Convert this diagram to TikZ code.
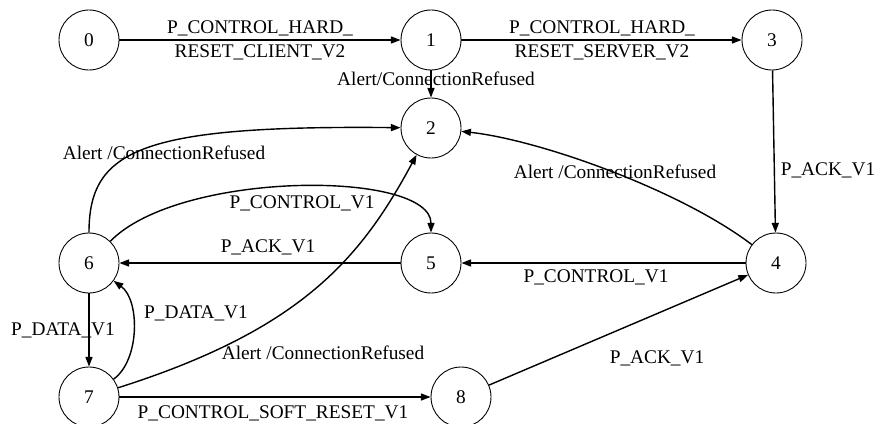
\documentclass[tikz,border=0pt]{standalone}
\usepackage{fontspec}
\setmainfont{Liberation Serif}
\usetikzlibrary{arrows.meta}

\begin{document}
\begin{tikzpicture}[x=0.02cm,y=-0.02cm,font=\fontsize{11pt}{13.5pt}\selectfont,
  state/.style={circle,draw,line width=0.5pt,minimum size=1.2cm,inner sep=0pt},
  trans/.style={line width=0.8pt,-{Triangle[length=5.5pt,width=4pt]}},
  lbl/.style={inner sep=0pt,align=center}]
\useasboundingbox (0,0) rectangle (875,423);
\node[state] (n0) at (89,40) {0};
\node[state] (n1) at (431,40) {1};
\node[state] (n3) at (772,40) {3};
\node[state] (n2) at (431,128) {2};
\node[state] (n6) at (89,263) {6};
\node[state] (n5) at (431,263) {5};
\node[state] (n4) at (776,263) {4};
\node[state] (n7) at (89,397) {7};
\node[state] (n8) at (461,397) {8};
\draw[trans] (n0) -- (n1);
\draw[trans] (n1) -- (n3);
\draw[trans] (n1) -- (n2);
\draw[trans] (n3) -- (n4);
\draw[trans] (n4) .. controls (680,190) and (540,140) .. (n2);
\draw[trans] (n4) -- (n5);
\draw[trans] (n5) -- (n6);
\draw[trans] (n6) .. controls (180,170) and (431,170) .. (n5);
\draw[trans] (n6) .. controls (89,150) and (140,125) .. (n2);
\draw[trans] (n6) -- (n7);
\draw[trans] (n7) .. controls (140,360) and (140,300) .. (n6);
\draw[trans] (n7) .. controls (300,330) and (360,260) .. (n2);
\draw[trans] (n7) -- (n8);
\draw[trans] (n8) -- (n4);
\node[lbl] (l01) at (260,40) {P\_CONTROL\_HARD\_\\RESET\_CLIENT\_V2};
\node[lbl] (l13) at (602,40) {P\_CONTROL\_HARD\_\\RESET\_SERVER\_V2};
\node[lbl] (l12) at (436,79) {Alert/ConnectionRefused};
\node[lbl] (l34) at (828,170) {P\_ACK\_V1};
\node[lbl] (l42) at (615,172) {Alert /ConnectionRefused};
\node[lbl] (l45) at (596,277) {P\_CONTROL\_V1};
\node[lbl] (l56) at (268,247) {P\_ACK\_V1};
\node[lbl] (l65) at (302,203) {P\_CONTROL\_V1};
\node[lbl] (l62) at (164,153) {Alert /ConnectionRefused};
\node[lbl] (l67) at (63,330) {P\_DATA\_V1};
\node[lbl] (l76) at (196,313) {P\_DATA\_V1};
\node[lbl] (l72) at (323,353) {Alert /ConnectionRefused};
\node[lbl] (l78) at (273,413) {P\_CONTROL\_SOFT\_RESET\_V1};
\node[lbl] (l84) at (657,358) {P\_ACK\_V1};
\end{tikzpicture}
\end{document}
